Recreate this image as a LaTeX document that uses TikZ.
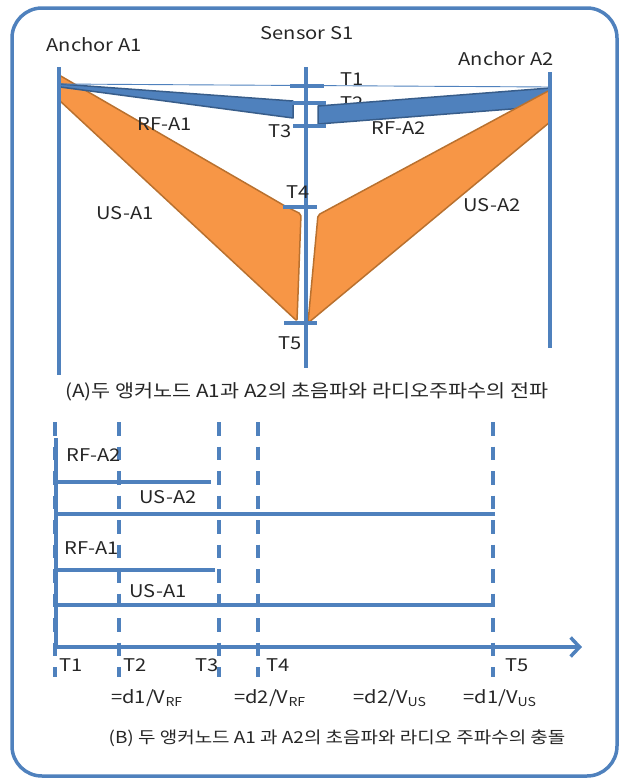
\documentclass[tikz,border=0pt]{standalone}
\usepackage{fontspec}
\setmainfont[FakeStretch=1.15]{Noto Sans CJK KR}
\usetikzlibrary{arrows.meta}
\definecolor{ublue}{HTML}{4F81BD}
\definecolor{bandedge}{HTML}{385D8A}
\definecolor{uorange}{HTML}{F79646}
\definecolor{oedge}{HTML}{B9712F}
\tikzset{
  lbl/.style={font=\fontsize{17.5}{20}\selectfont, inner sep=0pt, text=black!85},
  captxt/.style={font=\fontsize{16.5}{20}\selectfont, inner sep=0pt, text=black!85},
  axisline/.style={ublue, line width=4pt},
  tickln/.style={ublue, line width=4pt},
  band/.style={fill=ublue, draw=bandedge, line width=1.5pt, line join=round},
  wave/.style={fill=uorange, draw=oedge, line width=1.5pt, line join=round, rounded corners=2pt},
  tline/.style={ublue, line width=3.5pt},
  dline/.style={ublue, line width=3.5pt, dash pattern=on 13.5pt off 11pt},
}
\begin{document}
\begin{tikzpicture}[x=1pt,y=-1pt]
\useasboundingbox (0,0) rectangle (622,780);
\draw[ublue, line width=3.5pt, rounded corners=30pt] (12,8) rectangle (617,776);

% ---------- Part A ----------
\coordinate (a1top) at (59,67);  \coordinate (a1bot) at (59,375);
\coordinate (s1top) at (306,67); \coordinate (s1bot) at (306,368);
\coordinate (a2top) at (550,72); \coordinate (a2bot) at (550,348);

\node[lbl] (t2) at (352,103) {T2};

\draw[wave] (59,75) -- (285,206) -- (301,214) -- (297,321) -- (59,100) -- cycle;
\draw[band] (60,84) -- (293,101) -- (293,118) -- (60,87) -- cycle;
\draw[band] (318,106) -- (550,88) -- (550,106) -- (318,124) -- cycle;
\draw[wave] (550,90) -- (550,122) -- (308,323) -- (318,215) -- cycle;

\coordinate (thinL) at (59,84); \coordinate (thinR) at (550,87);
\draw[ublue, line width=0.9pt] (thinL) -- (thinR);

\draw[axisline] (a1top) -- (a1bot);
\draw[axisline] (s1top) -- (s1bot);
\draw[axisline] (a2top) -- (a2bot);

\coordinate (k1l) at (290,86);  \coordinate (k1r) at (324,86);
\coordinate (k2l) at (292,103); \coordinate (k2r) at (326,103);
\coordinate (k3l) at (293,126); \coordinate (k3r) at (326,126);
\coordinate (k4l) at (283,207); \coordinate (k4r) at (317,207);
\coordinate (k5l) at (284,323); \coordinate (k5r) at (317,323);
\draw[tickln] (k1l) -- (k1r);
\draw[tickln] (k2l) -- (k2r);
\draw[tickln] (k3l) -- (k3r);
\draw[tickln] (k4l) -- (k4r);
\draw[tickln] (k5l) -- (k5r);

\node[lbl] (anc1) at (94,45) {Anchor A1};
\node[lbl] (sen1) at (307,33) {Sensor S1};
\node[lbl] (anc2) at (506,59) {Anchor A2};
\node[lbl] (t1) at (352,79) {T1};
\node[lbl] (t3) at (280,131) {T3};
\node[lbl] (t4) at (298,192) {T4};
\node[lbl] (t5) at (290,343) {T5};
\node[lbl] (rfa1) at (165,124) {RF-A1};
\node[lbl] (usa1) at (125,213) {US-A1};
\node[lbl] (rfa2) at (399,128) {RF-A2};
\node[lbl] (usa2) at (492,205) {US-A2};
\node[captxt, font=\fontsize{18}{20}\selectfont] (capA) at (307,392) {(A)두 앵커노드 A1과 A2의 초음파와 라디오주파수의 전파};

% ---------- Part B ----------
\foreach \n/\x in {d1/55, d2/119, d3/219, d4/258, d5/493}{
  \coordinate (\n t) at (\x,422); \coordinate (\n b) at (\x,677);
  \draw[dline] (\n t) -- (\n b);
}
\coordinate (o) at (56,647); \coordinate (otop) at (56,438); \coordinate (xend) at (582,647);
\draw[tline] (otop) -- (o);
\draw[tline, -{Straight Barb[length=9pt,width=19pt]}] (o) -- (xend);

\coordinate (l1a) at (56,482); \coordinate (l1b) at (211,482);
\coordinate (l2a) at (56,514); \coordinate (l2b) at (495,514);
\coordinate (l3a) at (56,570); \coordinate (l3b) at (215,570);
\coordinate (l4a) at (56,605); \coordinate (l4b) at (493,605);
\draw[tline] (l1a) -- (l1b);
\draw[tline] (l2a) -- (l2b);
\draw[tline] (l3a) -- (l3b);
\draw[tline] (l4a) -- (l4b);

\node[lbl] (brfa2) at (94,455) {RF-A2};
\node[lbl] (busa2) at (168,497) {US-A2};
\node[lbl] (brfa1) at (92,548) {RF-A1};
\node[lbl] (busa1) at (158,591) {US-A1};

\node[lbl] (bt1) at (71,665) {T1};
\node[lbl] (bt2) at (135,665) {T2};
\node[lbl] (bt3) at (207,665) {T3};
\node[lbl] (bt4) at (278,665) {T4};
\node[lbl] (bt5) at (517,665) {T5};

\node[lbl] (f1) at (147,698) {=d1/V\textsubscript{RF}};
\node[lbl] (f2) at (270,698) {=d2/V\textsubscript{RF}};
\node[lbl] (f3) at (390,698) {=d2/V\textsubscript{US}};
\node[lbl] (f4) at (500,698) {=d1/V\textsubscript{US}};

\node[captxt] (capB) at (337,738) {(B) 두 앵커노드 A1 과 A2의 초음파와 라디오 주파수의 충돌};
\end{tikzpicture}
\end{document}
